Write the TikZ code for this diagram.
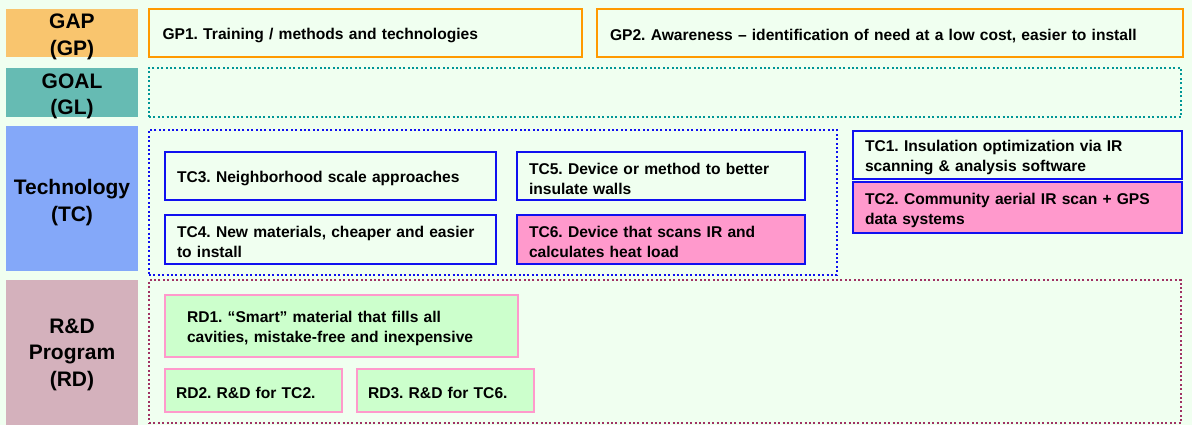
\documentclass[tikz,border=0pt]{standalone}
\usepackage{fontspec}
\setmainfont{Liberation Sans}
\frenchspacing
\definecolor{bgmint}{RGB}{240,255,240}
\definecolor{gapfill}{RGB}{249,197,110}
\definecolor{goalfill}{RGB}{102,187,179}
\definecolor{techfill}{RGB}{132,168,249}
\definecolor{rdfill}{RGB}{212,177,188}
\definecolor{gaporange}{RGB}{255,153,0}
\definecolor{techblue}{RGB}{16,16,240}
\definecolor{hotpink}{RGB}{255,153,204}
\definecolor{rdgreen}{RGB}{204,255,204}
\definecolor{goalteal}{RGB}{0,150,150}
\definecolor{rdmaroon}{RGB}{160,50,100}
\begin{document}
\begin{tikzpicture}[x=1pt,y=-1pt,
  every node/.style={inner sep=0pt, outer sep=0pt},
  rowlabel/.style={fill=#1, minimum width=132pt},
  rowtext/.style={align=center, yshift=-4pt,
    font=\bfseries\fontsize{21}{26.5}\selectfont},
  frame/.style={draw=#1, line width=2.2pt, dash pattern=on 2pt off 2.4pt},
  cell/.style={align=left, font=\bfseries\fontsize{15.6}{20}\selectfont,
    execute at begin node={\rule{0pt}{16.5pt}}},
  gapbox/.style={cell, draw=gaporange, line width=2.2pt},
  techbox/.style={cell, draw=techblue, line width=2.2pt},
  hotbox/.style={techbox, fill=hotpink},
  rdbox/.style={cell, draw=hotpink, fill=rdgreen, line width=2.2pt}
]
\useasboundingbox (0,0) rectangle (1192,425);
\fill[bgmint] (0,0) rectangle (1192,425);

% row labels
\node[rowlabel=gapfill, minimum height=48pt] (gap) at (72,33) {};
\node[rowtext] (gaptext) at (gap.center) {GAP\\(GP)};
\node[rowlabel=goalfill, minimum height=49pt] (goal) at (72,92.5) {};
\node[rowtext] (goaltext) at (goal.center) {GOAL\\(GL)};
\node[rowlabel=techfill, minimum height=145pt] (tech) at (72,198.5) {};
\node[rowtext] (techtext) at (tech.center) {Technology\\(TC)};
\node[rowlabel=rdfill, minimum height=145pt] (rd) at (72,352.5) {};
\node[rowtext, yshift=2pt] (rdtext) at (rd.center) {R\&D\\Program\\(RD)};

% dotted group frames
\node[frame=goalteal, minimum width=1032pt, minimum height=49pt] (goalframe) at (665,92.5) {};
\node[frame=techblue, minimum width=688pt, minimum height=145pt] (techframe) at (493,202.5) {};
\node[frame=rdmaroon, minimum width=1032pt, minimum height=143pt] (rdframe) at (665,351.5) {};

% gaps
\node[gapbox, minimum height=48pt, text width=406pt, inner xsep=13.5pt] (gp1) at (365.5,33)
  {GP1. Training / methods and technologies};
\node[gapbox, minimum height=48pt, text width=560pt, inner xsep=13pt] (gp2) at (890,33)
  {GP2. Awareness -- identification of need at a low cost, easier to install};

% technologies
\node[techbox, minimum height=48pt, text width=307pt, inner xsep=12pt] (tc3) at (330.5,176)
  {TC3. Neighborhood scale approaches};
\node[techbox, minimum height=49pt, text width=307pt, inner xsep=12pt] (tc4) at (330.5,239.5)
  {TC4. New materials, cheaper and easier\\to install};
\node[techbox, minimum height=48pt, text width=264pt, inner xsep=12pt] (tc5) at (661,176)
  {TC5. Device or method to better\\insulate walls};
\node[hotbox, minimum height=49pt, text width=264pt, inner xsep=12pt] (tc6) at (661,239.5)
  {TC6. Device that scans IR and\\calculates heat load};
\node[techbox, minimum height=48pt, text width=305pt, inner xsep=12pt] (tc1) at (1017.5,155)
  {TC1. Insulation optimization via IR\\scanning \& analysis software};
\node[hotbox, minimum height=51pt, text width=305pt, inner xsep=12pt] (tc2) at (1017.5,207.5)
  {TC2. Community aerial IR scan + GPS\\data systems};

% R&D programs
\node[rdbox, minimum height=62pt, text width=309pt, inner xsep=22pt] (rd1) at (341.5,326)
  {RD1. ``Smart'' material that fills all\\cavities, mistake-free and inexpensive};
\node[rdbox, minimum height=43pt, text width=155pt, inner xsep=11pt] (rd2) at (253.5,390.5)
  {RD2. R\&D for TC2.};
\node[rdbox, minimum height=43pt, text width=155pt, inner xsep=11pt] (rd3) at (445.5,390.5)
  {RD3. R\&D for TC6.};
\end{tikzpicture}
\end{document}
